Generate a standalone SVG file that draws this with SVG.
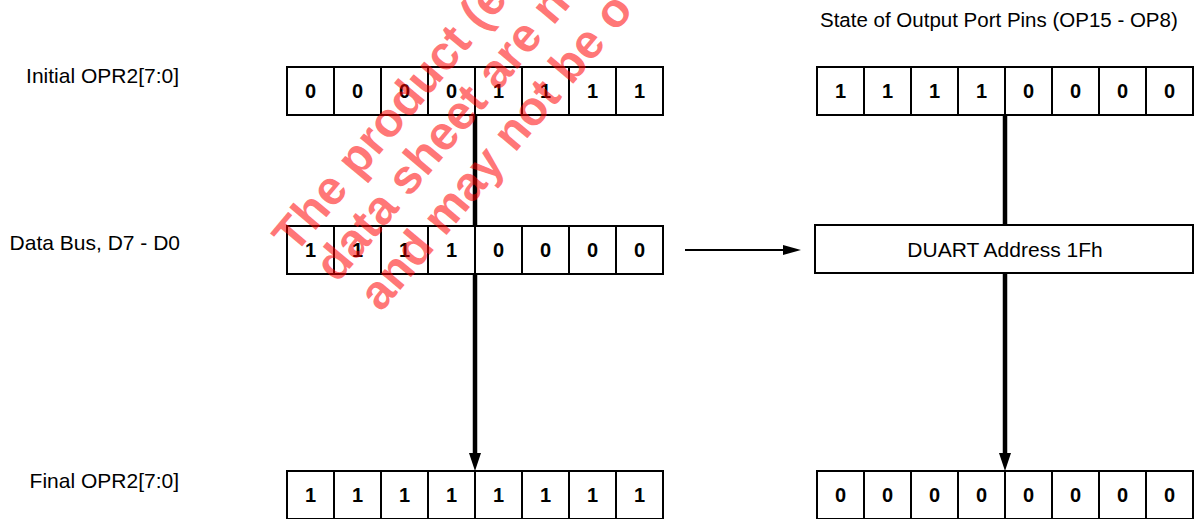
<svg xmlns="http://www.w3.org/2000/svg" width="1196" height="519" viewBox="0 0 1196 519">
<style>
.cell{fill:#fff;stroke:#000;stroke-width:2}
.bit{font-family:"Liberation Sans",Arial,sans-serif;font-weight:bold;font-size:20px;text-anchor:middle;fill:#000}
.lbl{font-family:"Liberation Sans",Arial,sans-serif;font-size:21px;fill:#000}
.bus{stroke:#000;stroke-width:4.5;fill:none}
.wm{font-family:"Liberation Sans",Arial,sans-serif;font-weight:bold;font-size:48px;fill:#ff0000;fill-opacity:0.55}
</style>
<defs>
<g id="reg8">
<rect class="cell" x="0" y="0" width="47" height="48"/>
<rect class="cell" x="47" y="0" width="47" height="48"/>
<rect class="cell" x="94" y="0" width="47" height="48"/>
<rect class="cell" x="141" y="0" width="47" height="48"/>
<rect class="cell" x="188" y="0" width="47" height="48"/>
<rect class="cell" x="235" y="0" width="47" height="48"/>
<rect class="cell" x="282" y="0" width="47" height="48"/>
<rect class="cell" x="329" y="0" width="47" height="48"/>
</g>
</defs>

<g id="labels">
<text class="lbl" x="179" y="83" text-anchor="end">Initial OPR2[7:0]</text>
<text class="lbl" x="180" y="250" text-anchor="end">Data Bus, D7 - D0</text>
<text class="lbl" x="179" y="488" text-anchor="end">Final OPR2[7:0]</text>
<text class="lbl" x="820" y="27" style="font-size:20.5px">State of Output Port Pins (OP15 - OP8)</text>
</g>

<g id="initial-opr2" transform="translate(287,67)">
<use href="#reg8"/>
<text class="bit" x="23.5" y="31">0</text><text class="bit" x="70.5" y="31">0</text><text class="bit" x="117.5" y="31">0</text><text class="bit" x="164.5" y="31">0</text>
<text class="bit" x="211.5" y="31">1</text><text class="bit" x="258.5" y="31">1</text><text class="bit" x="305.5" y="31">1</text><text class="bit" x="352.5" y="31">1</text>
</g>

<g id="initial-pins" transform="translate(817,67)">
<use href="#reg8"/>
<text class="bit" x="23.5" y="31">1</text><text class="bit" x="70.5" y="31">1</text><text class="bit" x="117.5" y="31">1</text><text class="bit" x="164.5" y="31">1</text>
<text class="bit" x="211.5" y="31">0</text><text class="bit" x="258.5" y="31">0</text><text class="bit" x="305.5" y="31">0</text><text class="bit" x="352.5" y="31">0</text>
</g>

<g id="data-bus" transform="translate(287,226)">
<use href="#reg8"/>
<text class="bit" x="23.5" y="31">1</text><text class="bit" x="70.5" y="31">1</text><text class="bit" x="117.5" y="31">1</text><text class="bit" x="164.5" y="31">1</text>
<text class="bit" x="211.5" y="31">0</text><text class="bit" x="258.5" y="31">0</text><text class="bit" x="305.5" y="31">0</text><text class="bit" x="352.5" y="31">0</text>
</g>

<g id="duart">
<rect class="cell" x="815" y="225" width="378" height="48"/>
<text class="lbl" x="1005" y="257" text-anchor="middle">DUART Address 1Fh</text>
</g>

<g id="final-opr2" transform="translate(287,471)">
<use href="#reg8"/>
<text class="bit" x="23.5" y="31">1</text><text class="bit" x="70.5" y="31">1</text><text class="bit" x="117.5" y="31">1</text><text class="bit" x="164.5" y="31">1</text>
<text class="bit" x="211.5" y="31">1</text><text class="bit" x="258.5" y="31">1</text><text class="bit" x="305.5" y="31">1</text><text class="bit" x="352.5" y="31">1</text>
</g>

<g id="final-pins" transform="translate(817,471)">
<use href="#reg8"/>
<text class="bit" x="23.5" y="31">0</text><text class="bit" x="70.5" y="31">0</text><text class="bit" x="117.5" y="31">0</text><text class="bit" x="164.5" y="31">0</text>
<text class="bit" x="211.5" y="31">0</text><text class="bit" x="258.5" y="31">0</text><text class="bit" x="305.5" y="31">0</text><text class="bit" x="352.5" y="31">0</text>
</g>

<g id="connectors">
<line class="bus" x1="475" y1="115" x2="475" y2="226"/>
<line class="bus" x1="475" y1="274" x2="475" y2="455"/>
<polygon points="469,453 481,453 475,471" fill="#000"/>
<line class="bus" x1="1005" y1="115" x2="1005" y2="225"/>
<line class="bus" x1="1005" y1="273" x2="1005" y2="455"/>
<polygon points="999,453 1011,453 1005,471" fill="#000"/>
<line x1="685" y1="250" x2="786" y2="250" stroke="#000" stroke-width="2"/>
<polygon points="783,245 801,250 783,255" fill="#000"/>
</g>

<g id="watermark">
<text class="wm" transform="translate(295,255) rotate(-50)">The product (e</text>
<text class="wm" transform="translate(337,284) rotate(-50)">data sheet are n</text>
<text class="wm" transform="translate(381,313) rotate(-50)">and may not be o</text>
</g>
</svg>
